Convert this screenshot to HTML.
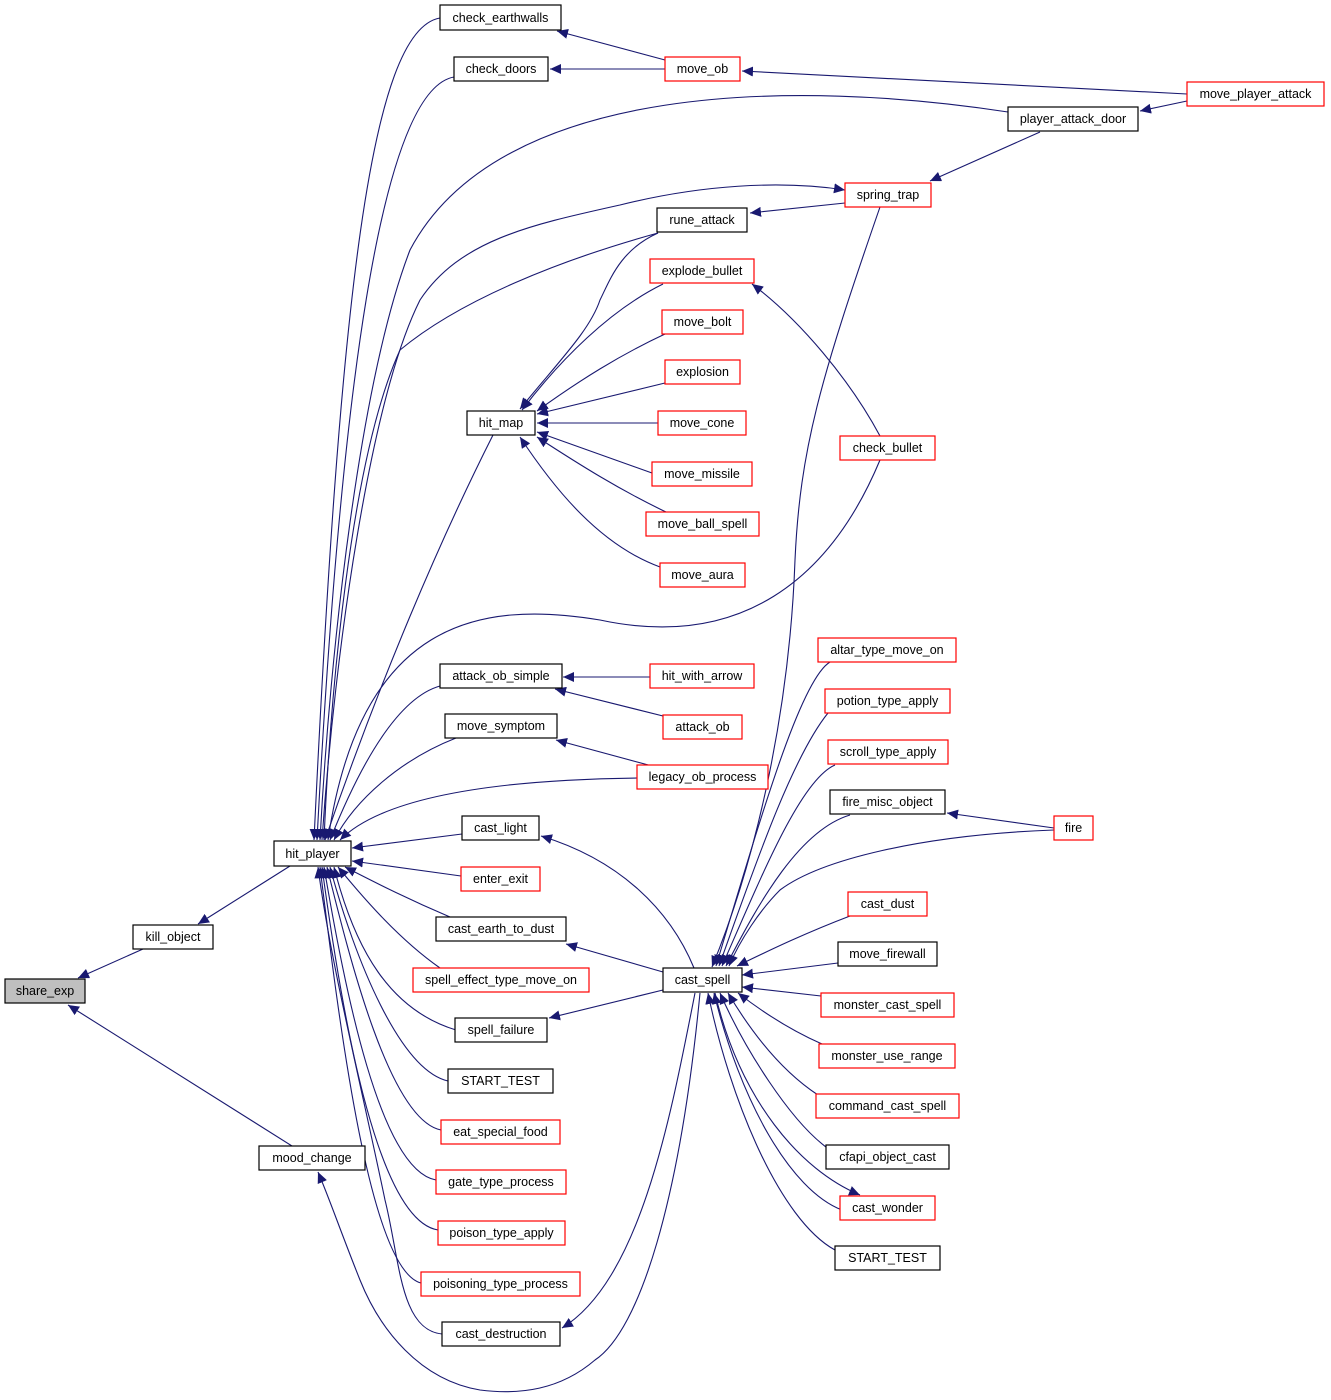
<!DOCTYPE html>
<html><head><meta charset="utf-8"><style>
html,body{margin:0;padding:0;background:#fff;}
svg{display:block;}
text{font-family:"Liberation Sans",sans-serif;font-size:12.5px;fill:#000;}
.n{fill:#fff;stroke:#000;stroke-width:1.2;}
.r{fill:#fff;stroke:#ff0000;stroke-width:1.2;}
.g{fill:#bfbfbf;stroke:#000;stroke-width:1.2;}
path.e{fill:none;stroke:#191970;stroke-width:1.1;marker-end:url(#a);}
</style></head><body>
<svg width="1331" height="1400" viewBox="0 0 1331 1400" xmlns="http://www.w3.org/2000/svg">
<defs><marker id="a" markerUnits="userSpaceOnUse" markerWidth="12" markerHeight="10" refX="11" refY="5" orient="auto"><path d="M0,0 L11,5 L0,10 z" fill="#191970"/></marker></defs>
<g>
<path class="e" d="M143,949 L78,978"/>
<path class="e" d="M292,1146 L68,1005"/>
<path class="e" d="M290,866 L198,924"/>
<path class="e" d="M665,60 L557,31"/>
<path class="e" d="M665,69 L550,69"/>
<path class="e" d="M1187,94 L742,71"/>
<path class="e" d="M1187,101 L1140,111"/>
<path class="e" d="M1040,132 L930,181"/>
<path class="e" d="M845,203 L750,213"/>
<path class="e" d="M880,436 C850,380 800,320 752,284"/>
<path class="e" d="M663,284 C610,310 560,360 522,410"/>
<path class="e" d="M665,334 C620,355 580,380 537,411"/>
<path class="e" d="M665,383 L537,414"/>
<path class="e" d="M658,423 L537,423"/>
<path class="e" d="M652,473 L537,432"/>
<path class="e" d="M666,512 C620,490 580,465 537,437"/>
<path class="e" d="M660,567 C600,545 555,490 520,437"/>
<path class="e" d="M658,233 C620,250 610,280 600,300 C590,330 560,360 520,409"/>
<path class="e" d="M493,435 C440,540 380,680 325,840"/>
<path class="e" d="M440,18 C370,30 340,300 314,840"/>
<path class="e" d="M454,77 C380,90 340,400 317,840"/>
<path class="e" d="M1008,112 C800,80 500,80 410,250 C360,380 330,650 320,840"/>
<path class="e" d="M322,840 C335,650 370,400 420,300 C460,240 530,225 620,205 C700,185 780,180 845,190"/>
<path class="e" d="M658,233 C560,260 460,300 400,350 C350,460 330,700 324,840"/>
<path class="e" d="M880,460 C830,580 740,650 600,620 C480,600 360,620 328,840"/>
<path class="e" d="M440,686 C390,700 350,790 330,840"/>
<path class="e" d="M456,738 C400,760 355,800 334,840"/>
<path class="e" d="M637,778 C480,780 380,800 340,840"/>
<path class="e" d="M462,834 L352,848"/>
<path class="e" d="M461,876 L352,861"/>
<path class="e" d="M450,917 C410,900 380,885 345,867"/>
<path class="e" d="M440,968 C400,940 365,900 338,867"/>
<path class="e" d="M456,1030 C390,1010 355,950 334,867"/>
<path class="e" d="M448,1081 C400,1070 355,960 330,867"/>
<path class="e" d="M441,1130 C390,1120 350,960 327,867"/>
<path class="e" d="M436,1180 C380,1170 345,990 324,867"/>
<path class="e" d="M438,1230 C375,1220 340,1000 322,867"/>
<path class="e" d="M421,1283 C370,1270 340,1030 320,867"/>
<path class="e" d="M442,1334 C400,1330 400,1260 385,1200 C360,1080 330,960 318,867"/>
<path class="e" d="M700,993 C680,1200 640,1330 595,1360 C560,1390 520,1395 480,1390 C420,1380 380,1330 360,1280 C340,1230 330,1200 318,1172"/>
<path class="e" d="M695,993 C670,1120 640,1280 562,1328"/>
<path class="e" d="M694,968 C670,910 620,860 541,836"/>
<path class="e" d="M663,972 L566,944"/>
<path class="e" d="M663,990 L549,1018"/>
<path class="e" d="M650,677 L563,677"/>
<path class="e" d="M663,716 L555,689"/>
<path class="e" d="M652,766 L556,740"/>
<path class="e" d="M880,207 C820,380 800,450 795,560 C790,700 760,850 712,967"/>
<path class="e" d="M830,662 C800,680 760,820 716,966"/>
<path class="e" d="M828,713 C790,760 750,880 719,966"/>
<path class="e" d="M835,765 C800,780 760,880 722,966"/>
<path class="e" d="M850,815 C800,830 760,900 726,966"/>
<path class="e" d="M1054,830 C920,835 820,860 780,890 C760,910 740,940 729,966"/>
<path class="e" d="M1054,828 L947,813"/>
<path class="e" d="M850,916 C800,935 760,955 737,966"/>
<path class="e" d="M838,963 L742,975"/>
<path class="e" d="M821,996 L742,987"/>
<path class="e" d="M822,1044 C790,1030 760,1010 738,993"/>
<path class="e" d="M818,1095 C780,1070 750,1030 728,993"/>
<path class="e" d="M826,1147 C790,1120 745,1050 720,993"/>
<path class="e" d="M842,1210 C790,1190 740,1100 714,993"/>
<path class="e" d="M835,1250 C780,1220 730,1100 708,993"/>
<path class="e" d="M715,993 C740,1100 800,1170 860,1195"/>
</g>
<g>
<rect class="g" x="5" y="979" width="80" height="24"/><text x="45" y="995" text-anchor="middle">share_exp</text>
<rect class="n" x="133" y="925" width="80" height="24"/><text x="173" y="941" text-anchor="middle">kill_object</text>
<rect class="n" x="259" y="1146" width="106" height="24"/><text x="312" y="1162" text-anchor="middle">mood_change</text>
<rect class="n" x="274" y="841" width="77" height="25"/><text x="312.5" y="858" text-anchor="middle">hit_player</text>
<rect class="n" x="440" y="5" width="121" height="25"/><text x="500.5" y="22" text-anchor="middle">check_earthwalls</text>
<rect class="n" x="454" y="57" width="94" height="24"/><text x="501" y="73" text-anchor="middle">check_doors</text>
<rect class="r" x="665" y="57" width="75" height="24"/><text x="702.5" y="73" text-anchor="middle">move_ob</text>
<rect class="r" x="1187" y="82" width="137" height="24"/><text x="1255.5" y="98" text-anchor="middle">move_player_attack</text>
<rect class="n" x="1008" y="107" width="130" height="24"/><text x="1073" y="123" text-anchor="middle">player_attack_door</text>
<rect class="r" x="845" y="183" width="86" height="24"/><text x="888" y="199" text-anchor="middle">spring_trap</text>
<rect class="n" x="657" y="208" width="90" height="24"/><text x="702" y="224" text-anchor="middle">rune_attack</text>
<rect class="r" x="650" y="259" width="104" height="24"/><text x="702" y="275" text-anchor="middle">explode_bullet</text>
<rect class="r" x="662" y="310" width="81" height="24"/><text x="702.5" y="326" text-anchor="middle">move_bolt</text>
<rect class="r" x="665" y="360" width="75" height="24"/><text x="702.5" y="376" text-anchor="middle">explosion</text>
<rect class="n" x="467" y="411" width="68" height="24"/><text x="501" y="427" text-anchor="middle">hit_map</text>
<rect class="r" x="658" y="411" width="88" height="24"/><text x="702" y="427" text-anchor="middle">move_cone</text>
<rect class="r" x="652" y="462" width="100" height="24"/><text x="702" y="478" text-anchor="middle">move_missile</text>
<rect class="r" x="646" y="512" width="113" height="24"/><text x="702.5" y="528" text-anchor="middle">move_ball_spell</text>
<rect class="r" x="660" y="563" width="85" height="24"/><text x="702.5" y="579" text-anchor="middle">move_aura</text>
<rect class="r" x="840" y="436" width="95" height="24"/><text x="887.5" y="452" text-anchor="middle">check_bullet</text>
<rect class="n" x="440" y="664" width="122" height="24"/><text x="501" y="680" text-anchor="middle">attack_ob_simple</text>
<rect class="r" x="650" y="664" width="104" height="24"/><text x="702" y="680" text-anchor="middle">hit_with_arrow</text>
<rect class="r" x="663" y="715" width="79" height="24"/><text x="702.5" y="731" text-anchor="middle">attack_ob</text>
<rect class="n" x="445" y="714" width="112" height="24"/><text x="501" y="730" text-anchor="middle">move_symptom</text>
<rect class="r" x="637" y="765" width="131" height="24"/><text x="702.5" y="781" text-anchor="middle">legacy_ob_process</text>
<rect class="n" x="462" y="816" width="77" height="24"/><text x="500.5" y="832" text-anchor="middle">cast_light</text>
<rect class="r" x="461" y="867" width="79" height="24"/><text x="500.5" y="883" text-anchor="middle">enter_exit</text>
<rect class="n" x="436" y="917" width="130" height="24"/><text x="501" y="933" text-anchor="middle">cast_earth_to_dust</text>
<rect class="r" x="413" y="968" width="176" height="24"/><text x="501" y="984" text-anchor="middle">spell_effect_type_move_on</text>
<rect class="n" x="455" y="1018" width="92" height="24"/><text x="501" y="1034" text-anchor="middle">spell_failure</text>
<rect class="n" x="448" y="1069" width="105" height="24"/><text x="500.5" y="1085" text-anchor="middle">START_TEST</text>
<rect class="r" x="441" y="1120" width="119" height="24"/><text x="500.5" y="1136" text-anchor="middle">eat_special_food</text>
<rect class="r" x="436" y="1170" width="130" height="24"/><text x="501" y="1186" text-anchor="middle">gate_type_process</text>
<rect class="r" x="438" y="1221" width="127" height="24"/><text x="501.5" y="1237" text-anchor="middle">poison_type_apply</text>
<rect class="r" x="421" y="1272" width="159" height="24"/><text x="500.5" y="1288" text-anchor="middle">poisoning_type_process</text>
<rect class="n" x="442" y="1322" width="118" height="24"/><text x="501" y="1338" text-anchor="middle">cast_destruction</text>
<rect class="n" x="663" y="968" width="79" height="24"/><text x="702.5" y="984" text-anchor="middle">cast_spell</text>
<rect class="r" x="818" y="638" width="138" height="24"/><text x="887" y="654" text-anchor="middle">altar_type_move_on</text>
<rect class="r" x="825" y="689" width="125" height="24"/><text x="887.5" y="705" text-anchor="middle">potion_type_apply</text>
<rect class="r" x="828" y="740" width="120" height="24"/><text x="888" y="756" text-anchor="middle">scroll_type_apply</text>
<rect class="n" x="830" y="790" width="115" height="24"/><text x="887.5" y="806" text-anchor="middle">fire_misc_object</text>
<rect class="r" x="1054" y="816" width="39" height="24"/><text x="1073.5" y="832" text-anchor="middle">fire</text>
<rect class="r" x="848" y="892" width="79" height="24"/><text x="887.5" y="908" text-anchor="middle">cast_dust</text>
<rect class="n" x="838" y="942" width="99" height="24"/><text x="887.5" y="958" text-anchor="middle">move_firewall</text>
<rect class="r" x="821" y="993" width="133" height="24"/><text x="887.5" y="1009" text-anchor="middle">monster_cast_spell</text>
<rect class="r" x="819" y="1044" width="136" height="24"/><text x="887" y="1060" text-anchor="middle">monster_use_range</text>
<rect class="r" x="816" y="1094" width="143" height="24"/><text x="887.5" y="1110" text-anchor="middle">command_cast_spell</text>
<rect class="n" x="826" y="1145" width="123" height="24"/><text x="887.5" y="1161" text-anchor="middle">cfapi_object_cast</text>
<rect class="r" x="840" y="1196" width="95" height="24"/><text x="887.5" y="1212" text-anchor="middle">cast_wonder</text>
<rect class="n" x="835" y="1246" width="105" height="24"/><text x="887.5" y="1262" text-anchor="middle">START_TEST</text>
</g>
</svg>
</body></html>
